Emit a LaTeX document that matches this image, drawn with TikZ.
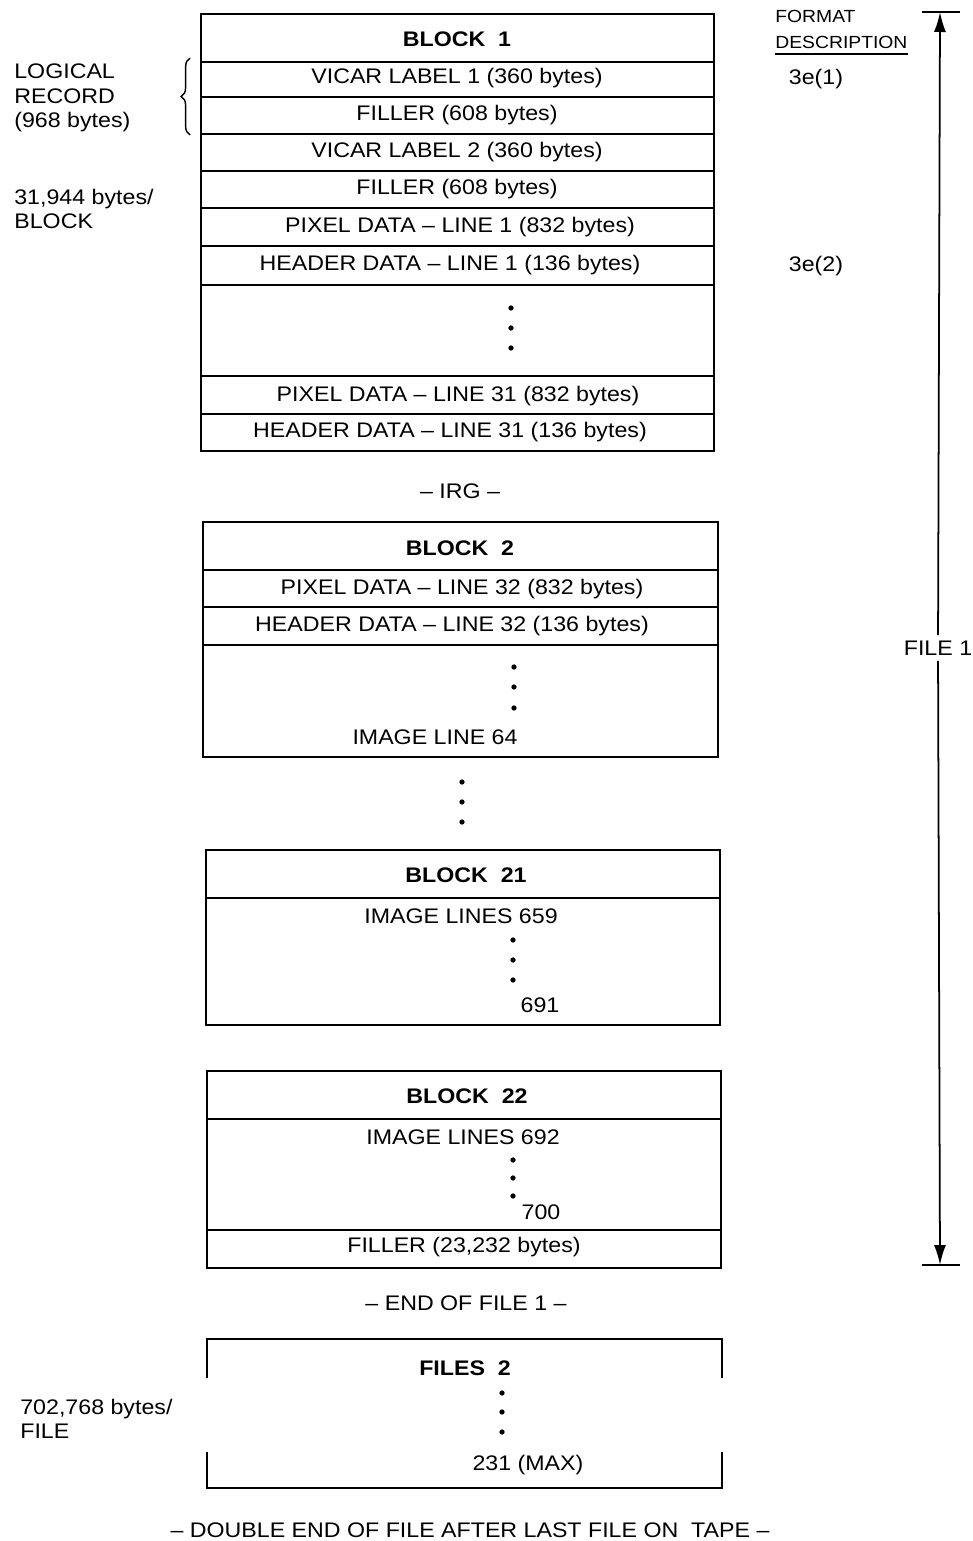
\documentclass[tikz,border=0pt]{standalone}
\usepackage{fontspec}
\setmainfont{Liberation Sans}[FakeStretch=1.1]
\usetikzlibrary{arrows.meta, decorations.pathreplacing}

\tikzset{
  lbl/.style={font=\fontsize{12}{14}\selectfont, inner sep=0pt},
  hdr/.style={lbl, font=\fontsize{12}{14}\selectfont\bfseries},
  side/.style={lbl, align=left, anchor=west},
  fmt/.style={lbl, font=\fontsize{10}{14.5}\selectfont},
  frame/.style={line width=1.1pt},
}
\newcommand{\dotstack}[4]{% x, y1, y2, y3
  \foreach \yy in {#2,#3,#4} \fill (#1,\yy) circle (1.5pt);}

\begin{document}
\begin{tikzpicture}[x=0.02cm, y=-0.02cm, >={Latex[length=4mm, width=2.4mm]}]

\useasboundingbox (0,0) rectangle (973,1541);

% Block 1
\draw[frame] (201,14) rectangle (714,451);
\foreach \yl in {62,97,134,171,208,246,285,376,414}
  \draw[frame] (201,\yl) -- (714,\yl);
\node[hdr] (blk1) at (457,39) {BLOCK\ \ 1};
\node[lbl] (vicar1) at (457,78) {VICAR LABEL 1 (360 bytes)};
\node[lbl] (fill1) at (457,115) {FILLER (608 bytes)};
\node[lbl] (vicar2) at (457,152) {VICAR LABEL 2 (360 bytes)};
\node[lbl] (fill2) at (457,189) {FILLER (608 bytes)};
\node[lbl] (pix1) at (460,227) {PIXEL DATA -- LINE 1 (832 bytes)};
\node[lbl] (hdr1) at (450,265) {HEADER DATA -- LINE 1 (136 bytes)};
\dotstack{511}{308}{328}{348}
\node[lbl] (pix31) at (458,396) {PIXEL DATA -- LINE 31 (832 bytes)};
\node[lbl] (hdr31) at (450,432) {HEADER DATA -- LINE 31 (136 bytes)};

\node[lbl] (irg) at (460,491) {-- IRG --};

% Block 2
\draw[frame] (203,522) rectangle (718,757);
\foreach \yl in {570,607,645}
  \draw[frame] (203,\yl) -- (718,\yl);
\node[hdr] (blk2) at (460,548) {BLOCK\ \ 2};
\node[lbl] (pix32) at (462,589) {PIXEL DATA -- LINE 32 (832 bytes)};
\node[lbl] (hdr32) at (452,626) {HEADER DATA -- LINE 32 (136 bytes)};
\dotstack{514}{667}{687}{708}
\node[lbl] (line64) at (435,737) {IMAGE LINE 64};

\dotstack{462}{782}{802}{822}

% Block 21
\draw[frame] (206,850) rectangle (720,1025);
\draw[frame] (206,898) -- (720,898);
\node[hdr] (blk21) at (466,875) {BLOCK\ \ 21};
\node[lbl] (lines659) at (461,916) {IMAGE LINES 659};
\dotstack{513}{940}{960}{980}
\node[lbl] (line691) at (540,1005) {691};

% Block 22
\draw[frame] (207,1071) rectangle (721,1268);
\draw[frame] (207,1119) -- (721,1119);
\draw[frame] (207,1230) -- (721,1230);
\node[hdr] (blk22) at (467,1096) {BLOCK\ \ 22};
\node[lbl] (lines692) at (463,1137) {IMAGE LINES 692};
\dotstack{513}{1160}{1178}{1196}
\node[lbl] (line700) at (541,1212) {700};
\node[lbl] (fill22) at (464,1247) {FILLER (23,232 bytes)};

\node[lbl] (eof1) at (466,1303) {-- END OF FILE 1 --};

% Files 2 .. 231
\draw[frame] (207,1378) -- (207,1339) -- (722,1339) -- (722,1378);
\draw[frame] (207,1452) -- (207,1488) -- (722,1488) -- (722,1452);
\node[hdr] (files2) at (465,1368) {FILES\ \ 2};
\dotstack{502}{1393}{1412}{1432}
\node[lbl] (max231) at (528,1465) {231 (MAX)};

\node[lbl] (deof) at (470,1530) {-- DOUBLE END OF FILE AFTER LAST FILE ON\ \ TAPE --};

% Left notes
\node[side] (logrec) at (14,98) {LOGICAL\\RECORD\\(968 bytes)};
\draw[decorate, decoration={brace, amplitude=5pt}, line width=0.8pt]
  (190,135) -- (190,58);
\node[side] (perblock) at (14,209) {31,944 bytes/\\BLOCK};
\node[side] (perfile) at (20,1419) {702,768 bytes/\\FILE};

% Format description column
\node[fmt, align=left, anchor=north west] (fmtdesc) at (775,10) {FORMAT\\DESCRIPTION};
\draw[line width=0.8pt] ([yshift=-3pt]fmtdesc.south west) -- ([yshift=-3pt]fmtdesc.south east);
\node[lbl] (fmtA) at (816,79) {3e(1)};
\node[lbl] (fmtB) at (816,266) {3e(2)};

% File 1 extent
\coordinate (ftop) at (940,12);
\coordinate (fbot) at (940,1265);
\draw[line width=0.8pt] (922,12) -- (960,12);
\draw[line width=0.8pt] (922,1265) -- (960,1265);
\node[lbl, fill=white, inner sep=3pt] (file1) at (938,648) {FILE 1};
\draw[->, line width=1pt] (file1) -- (ftop);
\draw[->, line width=1pt] (file1) -- (fbot);

\end{tikzpicture}
\end{document}
